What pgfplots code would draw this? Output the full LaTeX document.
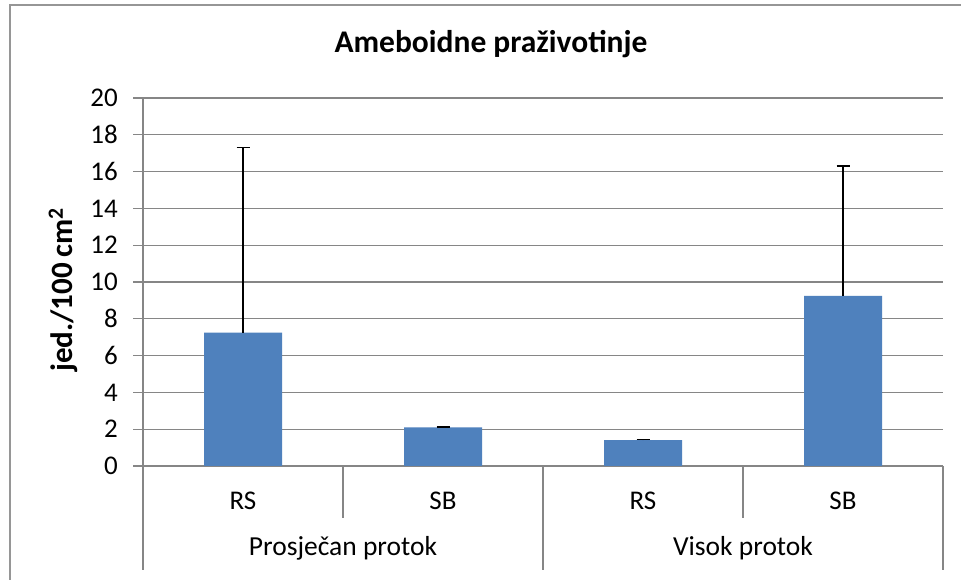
\documentclass[border=0pt]{standalone}
\usepackage{pgfplots}
\pgfplotsset{compat=1.18}
\usepackage{fontspec}
\setmainfont{Carlito}
\definecolor{barblue}{RGB}{79,129,189}
\definecolor{gridgray}{RGB}{134,134,134}
\definecolor{framegray}{RGB}{150,150,150}
\pgfplotstableread{
x y err
0 7.25 10.05
1 2.10 0.02
2 1.40 0.05
3 9.25 7.05
}\datatable
\begin{document}
\begin{tikzpicture}[x=1pt,y=1pt]
\useasboundingbox (0,0) rectangle (961,580);
\fill[white] (0,0) rectangle (961,580);
\begin{scope}
\clip (0,0) rectangle (961,580);
\draw[framegray, line width=2pt] (10,-20) rectangle (1000,575);
\end{scope}
\node[anchor=base, font=\fontsize{31.5}{36}\selectfont\bfseries] at (491,527) {Ameboidne praživotinje};
\begin{axis}[
  at={(143pt,114pt)}, anchor=south west,
  width=800pt, height=368pt, scale only axis,
  xmin=-0.5, xmax=3.5, ymin=0, ymax=20,
  ytick={0,2,...,20},
  xtick={0,1,2,3}, xticklabels={RS,SB,RS,SB},
  axis x line*=bottom, axis y line*=left,
  axis line style={gridgray, line width=1.2pt},
  ymajorgrids, major grid style={gridgray, line width=1.2pt},
  ytick style={gridgray, line width=1.2pt},
  xtick style={draw=none},
  tick align=outside, major tick length=10pt,
  tick label style={font=\fontsize{27}{31}\selectfont, black},
  yticklabel style={anchor=east, inner xsep=0pt, xshift=-15pt},
  xticklabel style={anchor=base, yshift=-34pt, inner sep=0pt},
  /pgf/number format/assume math mode=true,
  clip=false,
  ybar, bar width=78pt,
]
\addplot[fill=barblue, draw=none,
  error bars/.cd, y dir=plus, y explicit,
  error bar style={black, line width=1.2pt},
  error mark options={black, rotate=90, mark size=6.5pt, line width=1.2pt}]
  table[x=x, y=y, y error=err] {\datatable};
\draw[gridgray, line width=1.2pt] (axis cs:-0.5,0) -- (axis cs:-0.5,-5.65);
\draw[gridgray, line width=1.2pt] (axis cs:0.5,0) -- (axis cs:0.5,-2.83);
\draw[gridgray, line width=1.2pt] (axis cs:1.5,0) -- (axis cs:1.5,-5.65);
\draw[gridgray, line width=1.2pt] (axis cs:2.5,0) -- (axis cs:2.5,-2.83);
\draw[gridgray, line width=1.2pt] (axis cs:3.5,0) -- (axis cs:3.5,-5.65);
\end{axis}
\node[rotate=90, anchor=center, font=\fontsize{31}{36}\selectfont\bfseries] at (63,290) {jed./100\,cm\textsuperscript{2}};
\node[anchor=base, font=\fontsize{27.5}{31}\selectfont] at (343,24) {Prosječan protok};
\node[anchor=base, font=\fontsize{27.5}{31}\selectfont] at (743,24) {Visok protok};
\end{tikzpicture}
\end{document}
